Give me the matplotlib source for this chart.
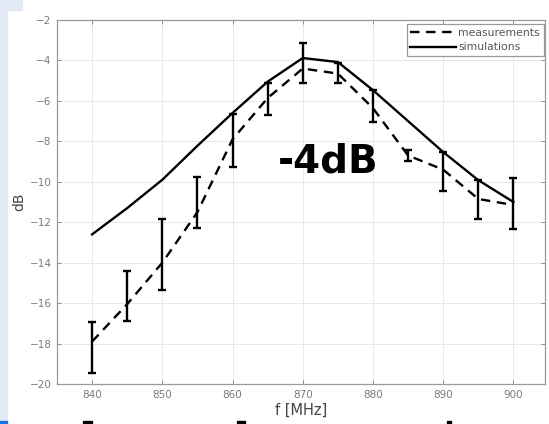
import numpy as np
import matplotlib
matplotlib.use('Agg')
import matplotlib.pyplot as plt
from matplotlib.patches import Rectangle

# data
freq = [840, 845, 850, 855, 860, 865, 870, 875, 880, 885, 890, 895, 900]
measurements = [-17.9, -16.05, -14.0, -11.5, -7.9, -5.86, -4.4, -4.65, -6.36,
                -8.7, -9.4, -10.85, -11.15]
meas_top = [-16.95, -14.4, -11.85, -9.75, -6.65, -5.12, -3.14, -4.13, -5.47,
            -8.45, -8.53, -9.9, -9.8]
meas_bottom = [-19.45, -16.9, -15.35, -12.3, -9.25, -6.7, -5.12, -5.12, -7.05,
               -8.95, -10.45, -11.85, -12.35]
simulations = [-12.6, -11.3, -9.9, -8.22, -6.6, -5.05, -3.88, -4.08, -5.47,
               -7.0, -8.53, -9.92, -11.0]

xticks = [840, 850, 860, 870, 880, 890, 900]
yticks = [-20, -18, -16, -14, -12, -10, -8, -6, -4, -2]

GRAY = '#7a7a7a'


def draw_background(fig):
    # slide remains around the pasted figure
    fig.patches.append(Rectangle((0, 0), 7 / 549, 1, transform=fig.transFigure,
                                 color='#e2eaf6', zorder=-5))
    fig.patches.append(Rectangle((0, 1 - 10 / 424), 22 / 549, 10 / 424,
                                 transform=fig.transFigure, color='#e2eaf6', zorder=-5))
    fig.patches.append(Rectangle((0, 0), 7 / 549, 3 / 424, transform=fig.transFigure,
                                 color='#1a73e8', zorder=-4))
    for x0, w in [(83, 9), (237, 8), (447, 4)]:
        fig.patches.append(Rectangle((x0 / 549, 0), w / 549, 3 / 424,
                                     transform=fig.transFigure, color='black', zorder=-4))


def plot_response(ax):
    meas = np.array(measurements)
    yerr = [meas - np.array(meas_bottom), np.array(meas_top) - meas]

    ax.errorbar(freq, meas, yerr=yerr, fmt='none', ecolor='black',
                elinewidth=1.7, capsize=3, capthick=1.7, zorder=3)
    ax.plot(freq, meas, color='black', linestyle=(0, (4, 2.8)), linewidth=1.7,
            label='measurements', zorder=4)
    ax.plot(freq, simulations, color='black', linestyle='-', linewidth=1.7,
            label='simulations', zorder=4)

    ax.set_xlim(835, 904.5)
    ax.set_ylim(-20, -2)
    ax.set_xticks(xticks)
    ax.set_yticks(yticks)
    ax.tick_params(direction='in', top=True, right=True, length=3, width=0.6,
                   colors=GRAY, labelsize=7.5, pad=4)
    ax.grid(True, color='#e8e8e8', linewidth=0.7)
    ax.set_axisbelow(True)
    for spine in ax.spines.values():
        spine.set_color('#9a9a9a')
        spine.set_linewidth(0.9)

    ax.set_xlabel('f [MHz]', fontsize=10.5, color='#444444', labelpad=2)
    ax.set_ylabel('dB', fontsize=10, color='#444444', labelpad=2)

    leg = ax.legend(loc='upper right', bbox_to_anchor=(0.997, 0.988), fontsize=7.8,
                    handlelength=4.2, handletextpad=0.2, borderpad=0.35,
                    labelspacing=0.4, fancybox=False, framealpha=1,
                    borderaxespad=0)
    leg.get_frame().set_edgecolor('#9a9a9a')
    leg.get_frame().set_linewidth(0.9)
    for t in leg.get_texts():
        t.set_color('#555555')

    ax.text(0.556, 0.61, '-4dB', transform=ax.transAxes, fontsize=28,
            fontweight='bold', ha='center', va='center', color='black', zorder=6)


fig = plt.figure(figsize=(5.49, 4.24), dpi=100)
ax = fig.add_axes([57 / 549, 1 - 384 / 424, 488 / 549, 364 / 424])
draw_background(fig)
plot_response(ax)
fig.savefig('out.png', dpi=100)
